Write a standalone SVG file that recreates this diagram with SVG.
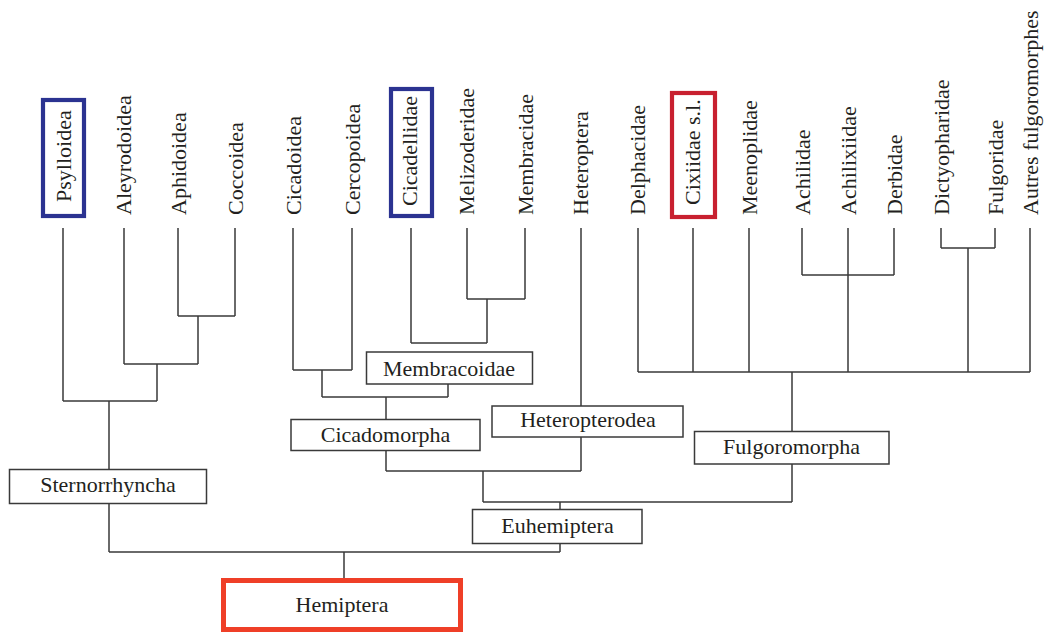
<svg xmlns="http://www.w3.org/2000/svg" width="1047" height="633" viewBox="0 0 1047 633">
  <style>
    .bg { fill: #ffffff; }
    .edge { fill: none; stroke: #3a3a3a; stroke-width: 1.5; }
    .box { fill: #ffffff; stroke: #3a3a3a; stroke-width: 1.5; }
    .hl-blue { fill: none; stroke: #2b3391; stroke-width: 4.2; }
    .hl-red { fill: none; stroke: #c8202f; stroke-width: 4.2; }
    .hl-root { fill: #ffffff; stroke: #ef3f28; stroke-width: 5; }
    .lbl { font-family: "Liberation Serif", "Times New Roman", serif; font-size: 22px; fill: #231f20; }
    .mid { text-anchor: middle; }
  </style>

  <rect class="bg" x="0" y="0" width="1047" height="633"/>

  <!-- branches of the tree -->
  <g id="connectors">
    <!-- Sternorrhyncha -->
    <path class="edge" d="M63,228 V401 M124,228 V364 M178,228 V316 M235,228 V316 M178,316 H235 M198,316 V364 M124,364 H198 M157,364 V401 M63,401 H157 M109,401 V469 M109,504 V552 M109,552 H560 M344,552 V578"/>
    <!-- Cicadomorpha -->
    <path class="edge" d="M293,228 V370 M352,228 V370 M293,370 H352 M322,370 V397 M322,397 H448 M448,384 V397 M467,228 V299 M525,228 V299 M467,299 H525 M487,299 V343 M411,228 V343 M411,343 H487 M386,397 V419 M386,451 V471 M386,471 H581 M581,228 V471"/>
    <!-- Euhemiptera -->
    <path class="edge" d="M483,471 V502 M483,502 H792 M560,502 V509 M560,544 V552"/>
    <!-- Fulgoromorpha -->
    <path class="edge" d="M638,228 V372 M693,228 V372 M749,228 V372 M802,228 V275 M894,228 V275 M802,275 H894 M848,228 V372 M941,228 V248 M995,228 V248 M941,248 H995 M968,248 V372 M1030,228 V372 M638,372 H1030 M792,372 V431 M792,464 V502"/>
  </g>

  <!-- terminal taxa -->
  <g id="leaf-psylloidea">
    <rect class="hl-blue" x="43" y="100" width="41" height="116"/>
    <text class="lbl" transform="translate(71,202) rotate(-90)">Psylloidea</text>
  </g>
  <g id="leaf-aleyrodoidea"><text class="lbl" transform="translate(131,215) rotate(-90)">Aleyrodoidea</text></g>
  <g id="leaf-aphidoidea"><text class="lbl" transform="translate(186,215) rotate(-90)">Aphidoidea</text></g>
  <g id="leaf-coccoidea"><text class="lbl" transform="translate(243,215) rotate(-90)">Coccoidea</text></g>
  <g id="leaf-cicadoidea"><text class="lbl" transform="translate(301,215) rotate(-90)">Cicadoidea</text></g>
  <g id="leaf-cercopoidea"><text class="lbl" transform="translate(360,215) rotate(-90)">Cercopoidea</text></g>
  <g id="leaf-cicadellidae">
    <rect class="hl-blue" x="391" y="89" width="41" height="127"/>
    <text class="lbl" transform="translate(417,206) rotate(-90)">Cicadellidae</text>
  </g>
  <g id="leaf-melizoderidae"><text class="lbl" transform="translate(474,215) rotate(-90)">Melizoderidae</text></g>
  <g id="leaf-membracidae"><text class="lbl" transform="translate(533,215) rotate(-90)">Membracidae</text></g>
  <g id="leaf-heteroptera"><text class="lbl" transform="translate(588,215) rotate(-90)">Heteroptera</text></g>
  <g id="leaf-delphacidae"><text class="lbl" transform="translate(645,215) rotate(-90)">Delphacidae</text></g>
  <g id="leaf-cixiidae">
    <rect class="hl-red" x="672" y="93" width="43" height="124"/>
    <text class="lbl" transform="translate(700,205) rotate(-90)">Cixiidae s.l.</text>
  </g>
  <g id="leaf-meenoplidae"><text class="lbl" transform="translate(757,215) rotate(-90)">Meenoplidae</text></g>
  <g id="leaf-achilidae"><text class="lbl" transform="translate(810,215) rotate(-90)">Achilidae</text></g>
  <g id="leaf-achilixiidae"><text class="lbl" transform="translate(856,215) rotate(-90)">Achilixiidae</text></g>
  <g id="leaf-derbidae"><text class="lbl" transform="translate(902,215) rotate(-90)">Derbidae</text></g>
  <g id="leaf-dictyopharidae"><text class="lbl" transform="translate(949,215) rotate(-90)">Dictyopharidae</text></g>
  <g id="leaf-fulgoridae"><text class="lbl" transform="translate(1003,215) rotate(-90)">Fulgoridae</text></g>
  <g id="leaf-autres"><text class="lbl" transform="translate(1038,215) rotate(-90)">Autres fulgoromorphes</text></g>

  <!-- named clades -->
  <g id="clade-membracoidae">
    <rect class="box" x="366.5" y="352" width="166" height="32"/>
    <text class="lbl mid" x="449" y="376">Membracoidae</text>
  </g>
  <g id="clade-cicadomorpha">
    <rect class="box" x="291" y="419.5" width="189" height="31"/>
    <text class="lbl mid" x="385.5" y="442">Cicadomorpha</text>
  </g>
  <g id="clade-heteropterodea">
    <rect class="box" x="492" y="406" width="191" height="31"/>
    <text class="lbl mid" x="588" y="427">Heteropterodea</text>
  </g>
  <g id="clade-fulgoromorpha">
    <rect class="box" x="694.5" y="431.5" width="194.5" height="32.5"/>
    <text class="lbl mid" x="791.5" y="454">Fulgoromorpha</text>
  </g>
  <g id="clade-sternorrhyncha">
    <rect class="box" x="9.5" y="469.5" width="197" height="34"/>
    <text class="lbl mid" x="108" y="492">Sternorrhyncha</text>
  </g>
  <g id="clade-euhemiptera">
    <rect class="box" x="472.5" y="509.5" width="169.5" height="34"/>
    <text class="lbl mid" x="557.5" y="533">Euhemiptera</text>
  </g>
  <g id="clade-hemiptera">
    <rect class="hl-root" x="223.5" y="580.5" width="237" height="49"/>
    <text class="lbl mid" x="342" y="612">Hemiptera</text>
  </g>
</svg>
